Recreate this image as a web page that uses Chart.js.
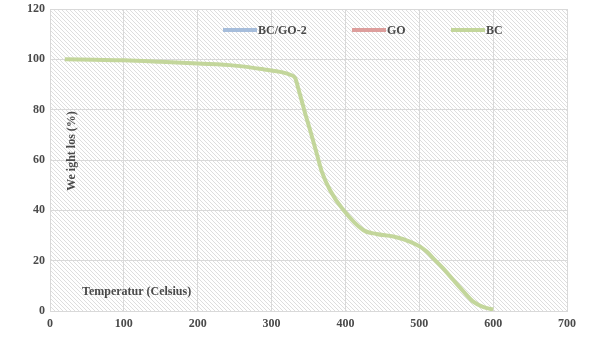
<!DOCTYPE html>
<html>
<head>
<meta charset="utf-8">
<script src="https://cdn.jsdelivr.net/npm/chart.js@4/dist/chart.umd.min.js"></script>
<style>
  html, body { margin: 0; padding: 0; background: #ffffff; }
  #wrap { position: relative; width: 605px; height: 340px; }
</style>
</head>
<body>
<div id="wrap"><canvas id="c" width="605" height="340"></canvas></div>
<script>
// Thermogravimetric curve: temperature (°C) vs remaining weight (%)
const temperature = [20, 60, 100, 150, 200, 250, 290, 315, 325, 332, 336, 341, 345, 352, 361, 368, 379, 397, 424, 442, 465, 487, 501, 510, 521, 532, 546, 560, 573, 587, 600];
const weightBC    = [100, 99.8, 99.6, 99.0, 98.3, 97.5, 96.0, 94.8, 93.9, 92.5, 88.6, 83.3, 79.0, 72.0, 62.7, 55.4, 48.1, 40.2, 32.2, 30.6, 29.6, 27.6, 25.6, 23.6, 20.3, 17.0, 12.3, 7.7, 3.7, 1.5, 0.6];
const seriesNames = ['BC/GO-2', 'GO', 'BC'];
const seriesColors = ['#a6bddb', '#dd9e9c', '#c3d69b'];
const xTicks = [0, 100, 200, 300, 400, 500, 600, 700];
const yTicks = [0, 20, 40, 60, 80, 100, 120];
const xTitle = 'Temperatur (Celsius)';
const yTitle = 'We ight los (%)';

const FONT = '"Liberation Serif", "Times New Roman", serif';
const TEXT = '#4a4a4a';
const GRID = '#d9d9d9';

// diagonal hatch tile used as plot-area fill
function makeHatch() {
  const t = document.createElement('canvas');
  t.width = 4; t.height = 4;
  const g = t.getContext('2d');
  g.fillStyle = '#ffffff';
  g.fillRect(0, 0, 4, 4);
  g.fillStyle = '#dedede';
  for (let i = 0; i < 4; i++) g.fillRect(i, i, 1, 1);
  return t;
}

const hatchPlugin = {
  id: 'hatch',
  beforeDraw(chart) {
    const { ctx, chartArea: a } = chart;
    ctx.save();
    ctx.fillStyle = ctx.createPattern(makeHatch(), 'repeat');
    ctx.fillRect(a.left, a.top, a.right - a.left, a.bottom - a.top);
    ctx.restore();
  }
};

const overlayPlugin = {
  id: 'overlay',
  afterDraw(chart) {
    const { ctx } = chart;
    ctx.save();
    ctx.font = 'bold 12px ' + FONT;
    ctx.fillStyle = TEXT;
    ctx.textBaseline = 'middle';
    // legend row
    const starts = [223, 352, 451];
    const ly = 30;
    seriesNames.forEach((n, i) => {
      ctx.strokeStyle = seriesColors[i];
      ctx.lineWidth = 4;
      ctx.lineCap = 'butt';
      ctx.beginPath();
      ctx.moveTo(starts[i], ly);
      ctx.lineTo(starts[i] + 34, ly);
      ctx.stroke();
      ctx.fillStyle = TEXT;
      ctx.textAlign = 'left';
      ctx.fillText(n, starts[i] + 35, ly + 1);
    });
    // x title inside plot
    ctx.textAlign = 'left';
    ctx.fillText(xTitle, 82, 292);
    // y title inside plot
    ctx.translate(72, 151);
    ctx.rotate(-Math.PI / 2);
    ctx.textAlign = 'center';
    ctx.fillText(yTitle, 0, 0);
    ctx.restore();
  }
};

new Chart(document.getElementById('c'), {
  type: 'line',
  data: {
    labels: temperature,
    datasets: [
      { label: seriesNames[0], data: [], borderColor: seriesColors[0] },
      { label: seriesNames[1], data: [], borderColor: seriesColors[1] },
      {
        label: seriesNames[2],
        data: temperature.map((t, i) => ({ x: t, y: weightBC[i] })),
        borderColor: seriesColors[2],
        borderWidth: 4,
        pointRadius: 0,
        cubicInterpolationMode: 'monotone',
        fill: false
      }
    ]
  },
  options: {
    responsive: false,
    animation: false,
    devicePixelRatio: 1,
    layout: { padding: { top: 9, right: 38, left: 0, bottom: 0 } },
    plugins: { legend: { display: false }, tooltip: { enabled: false } },
    scales: {
      x: {
        type: 'linear',
        min: 0, max: 700,
        afterBuildTicks(s) { s.ticks = xTicks.map(v => ({ value: v })); },
        afterFit(s) { s.height = 29; s.paddingLeft = 0; s.paddingRight = 0; },
        grid: { color: GRID, drawTicks: false, lineWidth: 1 },
        border: { color: GRID },
        ticks: { color: TEXT, padding: 6, font: { family: FONT, size: 12, weight: 'bold' }, maxRotation: 0 }
      },
      y: {
        min: 0, max: 120,
        afterBuildTicks(s) { s.ticks = yTicks.map(v => ({ value: v })); },
        afterFit(s) { s.width = 50; s.paddingTop = 0; s.paddingBottom = 0; },
        grid: { color: GRID, drawTicks: false, lineWidth: 1 },
        border: { color: GRID },
        ticks: { color: TEXT, padding: 5, font: { family: FONT, size: 12, weight: 'bold' } }
      }
    }
  },
  plugins: [hatchPlugin, overlayPlugin]
});
</script>
</body>
</html>
